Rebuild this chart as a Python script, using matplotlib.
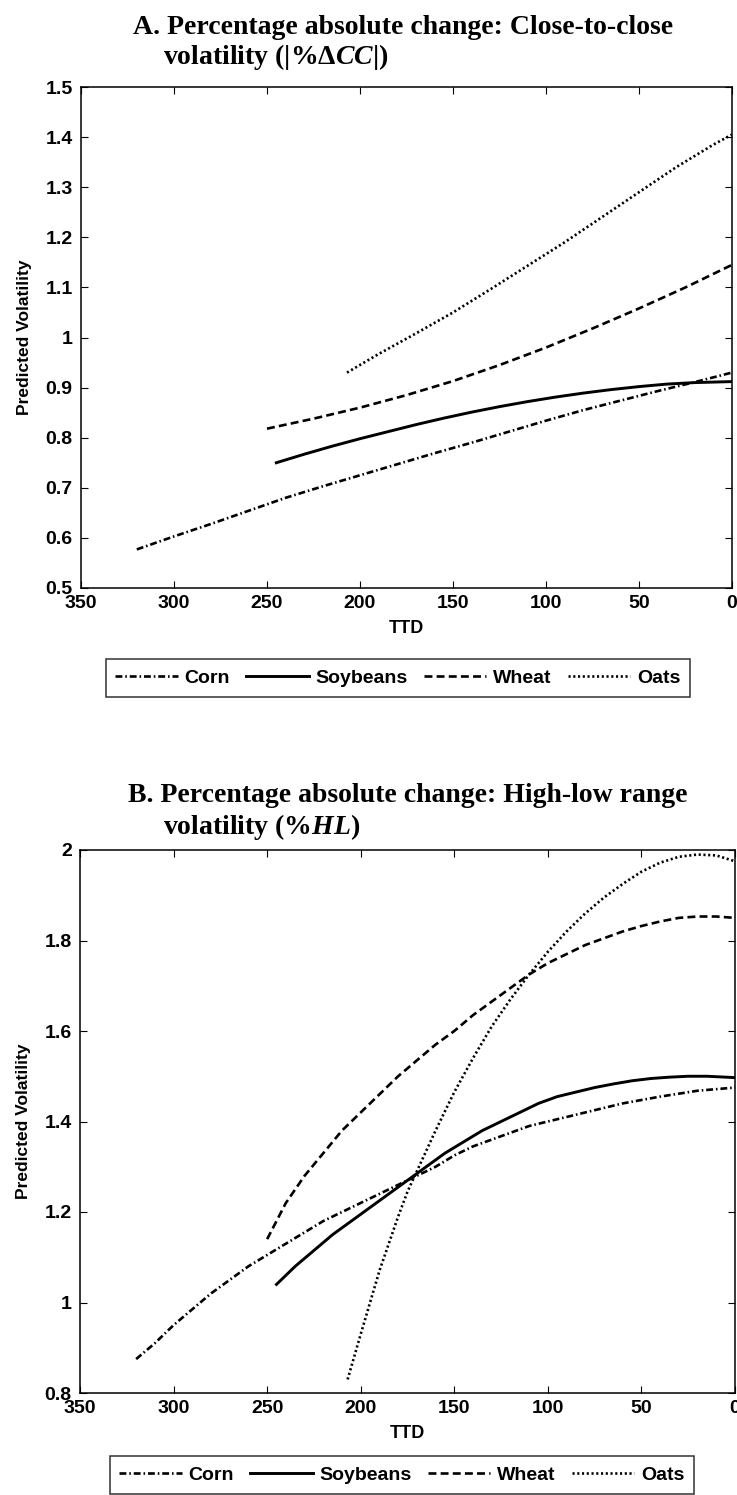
import matplotlib

matplotlib.use("Agg")
import matplotlib.pyplot as plt
from matplotlib.lines import Line2D

# Panel A: |%dCC| predicted volatility vs TTD
a_corn_ttd = [320, 300, 280, 260, 240, 220, 200, 180, 160, 140, 120, 100, 80, 60, 40, 20, 0]
a_corn_val = [0.577, 0.603, 0.628, 0.654, 0.680, 0.703, 0.725, 0.747, 0.769, 0.790,
              0.812, 0.834, 0.855, 0.874, 0.893, 0.911, 0.930]
a_soy_ttd = [245, 230, 215, 200, 185, 170, 155, 140, 125, 110, 95, 80, 65, 50, 35, 20, 0]
a_soy_val = [0.750, 0.767, 0.783, 0.798, 0.812, 0.826, 0.839, 0.851, 0.862, 0.872,
             0.881, 0.889, 0.896, 0.902, 0.907, 0.910, 0.912]
a_wheat_ttd = [250, 225, 200, 175, 150, 125, 100, 75, 50, 25, 0]
a_wheat_val = [0.818, 0.838, 0.860, 0.885, 0.913, 0.945, 0.980, 1.018, 1.058, 1.100, 1.145]
a_oats_ttd = [207, 190, 170, 150, 130, 110, 90, 70, 50, 30, 10, 0]
a_oats_val = [0.930, 0.967, 1.008, 1.050, 1.096, 1.143, 1.190, 1.240, 1.290, 1.340,
              1.385, 1.405]

# Panel B: %HL predicted volatility vs TTD
b_corn_ttd = [320, 310, 300, 290, 280, 270, 260, 250, 240, 230, 220, 210, 200, 190, 180,
              170, 160, 150, 140, 130, 120, 110, 100, 80, 60, 40, 20, 0]
b_corn_val = [0.875, 0.910, 0.950, 0.985, 1.020, 1.050, 1.080, 1.105, 1.130, 1.155,
              1.180, 1.200, 1.220, 1.240, 1.260, 1.280, 1.300, 1.325, 1.345, 1.360,
              1.375, 1.390, 1.400, 1.420, 1.440, 1.455, 1.468, 1.475]
b_soy_ttd = [245, 235, 225, 215, 205, 195, 185, 175, 165, 155, 145, 135, 125, 115, 105,
             95, 85, 75, 65, 55, 45, 35, 25, 15, 5, 0]
b_soy_val = [1.040, 1.080, 1.115, 1.150, 1.180, 1.210, 1.240, 1.270, 1.300, 1.330,
             1.355, 1.380, 1.400, 1.420, 1.440, 1.455, 1.465, 1.475, 1.483, 1.490,
             1.495, 1.498, 1.500, 1.500, 1.498, 1.497]
b_wheat_ttd = [250, 240, 230, 220, 210, 200, 190, 180, 170, 160, 150, 140, 130, 120, 110,
               100, 90, 80, 70, 60, 50, 40, 30, 20, 10, 0]
b_wheat_val = [1.140, 1.220, 1.280, 1.330, 1.380, 1.420, 1.460, 1.500, 1.535, 1.570,
               1.600, 1.635, 1.665, 1.695, 1.725, 1.750, 1.770, 1.790, 1.805, 1.820,
               1.832, 1.842, 1.850, 1.853, 1.853, 1.850]
b_oats_ttd = [207, 200, 195, 190, 185, 180, 175, 170, 160, 150, 140, 130, 120, 110, 100,
              90, 80, 70, 60, 50, 40, 30, 20, 10, 0]
b_oats_val = [0.830, 0.930, 1.000, 1.070, 1.130, 1.190, 1.245, 1.290, 1.380, 1.465,
              1.540, 1.610, 1.670, 1.725, 1.775, 1.820, 1.860, 1.895, 1.925, 1.952,
              1.972, 1.985, 1.990, 1.988, 1.975]

series_names = ["Corn", "Soybeans", "Wheat", "Oats"]
x_ticks = [350, 300, 250, 200, 150, 100, 50, 0]

plt.rcParams["font.family"] = ["Liberation Sans", "DejaVu Sans"]
plt.rcParams["font.weight"] = "bold"
plt.rcParams["mathtext.fontset"] = "custom"
plt.rcParams["mathtext.rm"] = "Liberation Serif:bold"
plt.rcParams["mathtext.it"] = "Liberation Serif:bold:italic"

styles = {
    "Corn": dict(linestyle=(0, (2.6, 1.1, 0.6, 1.1)), linewidth=1.9),
    "Soybeans": dict(linestyle="-", linewidth=2.1),
    "Wheat": dict(linestyle=(0, (3.0, 1.6)), linewidth=1.9),
    "Oats": dict(linestyle=(0, (0.8, 1.0)), linewidth=1.9),
}


def fmt(v):
    s = f"{v:.1f}"
    return s[:-2] if s.endswith(".0") else s


def draw_panel(ax, data, ylim, yticks):
    for name, (xs, ys) in zip(series_names, data):
        ax.plot(xs, ys, color="black", **styles[name])
    ax.set_xlim(350, 0)
    ax.set_ylim(*ylim)
    ax.set_xticks(x_ticks)
    ax.set_xticklabels([str(t) for t in x_ticks])
    ax.set_yticks(yticks)
    ax.set_yticklabels([fmt(t) for t in yticks])
    ax.tick_params(direction="in", top=True, right=True, length=5, width=0.8,
                   labelsize=14)
    ax.tick_params(axis="x", pad=5)
    ax.tick_params(axis="y", pad=6)
    for lab in ax.get_xticklabels() + ax.get_yticklabels():
        lab.set_fontweight("bold")
    for sp in ax.spines.values():
        sp.set_linewidth(1.1)
    ax.set_xlabel("TTD", fontsize=13, fontweight="bold", labelpad=6)
    ax.set_ylabel("Predicted Volatility", fontsize=12.5, fontweight="bold", labelpad=10)


fig = plt.figure(figsize=(7.37, 14.95), dpi=100)
W, H = 737, 1495


def axes_px(x0, y0, x1, y1):
    return fig.add_axes([x0 / W, 1 - y1 / H, (x1 - x0) / W, (y1 - y0) / H])


ax_a = axes_px(81, 87, 732, 588)
draw_panel(
    ax_a,
    [(a_corn_ttd, a_corn_val), (a_soy_ttd, a_soy_val),
     (a_wheat_ttd, a_wheat_val), (a_oats_ttd, a_oats_val)],
    (0.5, 1.5),
    [0.5 + 0.1 * i for i in range(11)],
)

ax_b = axes_px(80, 850, 735, 1393)
draw_panel(
    ax_b,
    [(b_corn_ttd, b_corn_val), (b_soy_ttd, b_soy_val),
     (b_wheat_ttd, b_wheat_val), (b_oats_ttd, b_oats_val)],
    (0.8, 2.0),
    [0.8 + 0.2 * i for i in range(7)],
)

title_kw = dict(fontsize=20, fontweight="bold", family=["Liberation Serif"],
                va="center", ha="left")
fig.text(133 / W, 1 - 27 / H, "A. Percentage absolute change: Close-to-close", **title_kw)
fig.text(163 / W, 1 - 57 / H, r"volatility ($|$%$\Delta$$\mathit{CC}$$|$)", **title_kw)
fig.text(128 / W, 1 - 795 / H, "B. Percentage absolute change: High-low range", **title_kw)
fig.text(163 / W, 1 - 827 / H, r"volatility (%$\mathit{HL}$)", **title_kw)

handles = [Line2D([], [], color="black", **styles[n]) for n in series_names]


def add_legend(cx, cy):
    leg = fig.legend(handles, series_names, loc="center",
                     bbox_to_anchor=(cx / W, 1 - cy / H), ncol=4, frameon=True,
                     fancybox=False, edgecolor="black",
                     handlelength=3.2, handletextpad=0.35, columnspacing=0.85,
                     borderpad=0.5, prop=dict(weight="bold", size=14))
    leg.get_frame().set_linewidth(1.1)
    return leg


add_legend(398, 678)
add_legend(402, 1475)

fig.savefig("out.png", dpi=100)
